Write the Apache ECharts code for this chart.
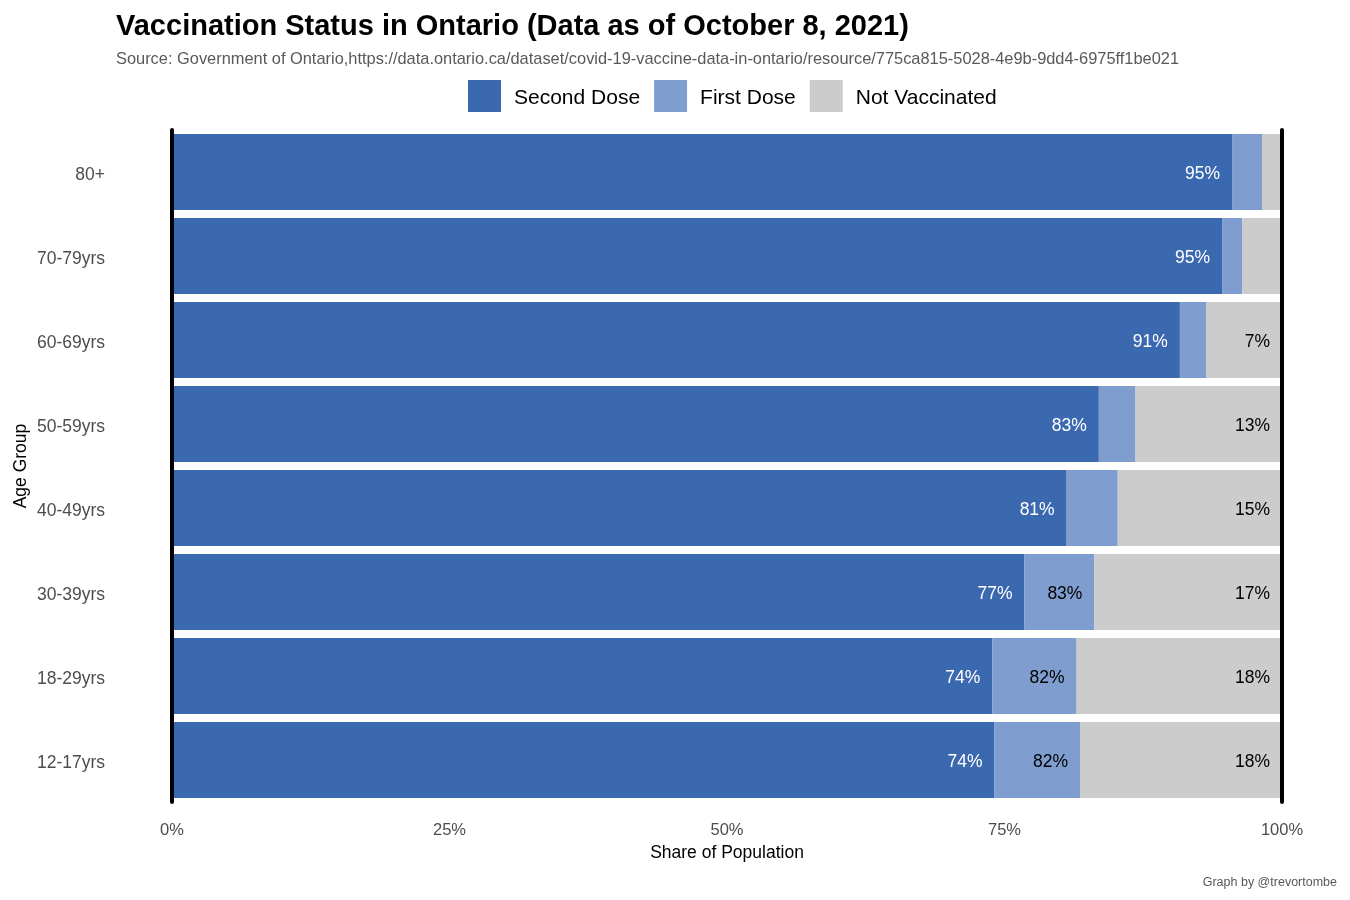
<!DOCTYPE html>
<html>
<head>
<meta charset="utf-8">
<title>Vaccination Status in Ontario</title>
<script src="https://cdn.jsdelivr.net/npm/echarts@6/dist/echarts.min.js"></script>
<style>
  html, body { margin: 0; padding: 0; background: #fff; }
  #main { width: 1350px; height: 900px; }
</style>
</head>
<body>
<div id="main"></div>
<script>
// categories, top to bottom
const ageGroups = ['80+', '70-79yrs', '60-69yrs', '50-59yrs', '40-49yrs', '30-39yrs', '18-29yrs', '12-17yrs'];

// share of population (%)
const secondDose = [95.5, 94.6, 90.8, 83.5, 80.6, 76.8, 73.9, 74.1];
const firstDose = [2.7, 1.8, 2.4, 3.3, 4.6, 6.3, 7.6, 7.7];
const notVaccinated = [1.8, 3.6, 6.8, 13.2, 14.8, 16.9, 18.5, 18.2];

// text printed on the bars ('' = no label)
const secondLabels = ['95%', '95%', '91%', '83%', '81%', '77%', '74%', '74%'];
const firstLabels = ['', '', '', '', '', '83%', '82%', '82%'];
const notLabels = ['', '', '7%', '13%', '15%', '17%', '18%', '18%'];

const xTicks = [0, 25, 50, 75, 100];

const font = '"Liberation Sans", Arial, sans-serif';
const colSecond = '#3a69b0';
const colFirst = '#7f9dce';
const colNot = '#cccccc';

const myChart = echarts.init(document.getElementById('main'));

function barLabel(labels, color) {
  return {
    show: true,
    position: 'insideRight',
    distance: 12,
    offset: [0, 2],
    color: color,
    fontFamily: font,
    fontSize: 17.5,
    formatter: function (p) { return labels[p.dataIndex]; }
  };
}

const option = {
  animation: false,
  backgroundColor: '#fff',
  textStyle: { fontFamily: font },
  title: [
    {
      text: 'Vaccination Status in Ontario (Data as of October 8, 2021)',
      left: 116,
      top: 12,
      padding: 0,
      textStyle: { fontFamily: font, fontSize: 29, fontWeight: 'bold', color: '#000' }
    },
    {
      text: 'Source: Government of Ontario,https://data.ontario.ca/dataset/covid-19-vaccine-data-in-ontario/resource/775ca815-5028-4e9b-9dd4-6975ff1be021',
      left: 116,
      top: 51,
      padding: 0,
      textStyle: { fontFamily: font, fontSize: 16.4, fontWeight: 'normal', color: '#595959' }
    },
    {
      text: 'Graph by @trevortombe',
      right: 13,
      top: 876,
      padding: 0,
      textStyle: { fontFamily: font, fontSize: 12.5, fontWeight: 'normal', color: '#595959' }
    }
  ],
  legend: {
    top: 80,
    left: 468,
    padding: 0,
    itemWidth: 33,
    itemHeight: 32,
    itemGap: 14,
    icon: 'rect',
    data: ['Second Dose', 'First Dose', 'Not Vaccinated'],
    formatter: '{t|{name}}',
    textStyle: {
      fontFamily: font,
      fontSize: 21,
      color: '#000',
      rich: { t: { fontFamily: font, fontSize: 21, color: '#000', padding: [4, 0, 0, 8] } }
    }
  },
  grid: {
    left: 172,
    right: 68,
    top: 130,
    bottom: 98,
    containLabel: false,
    outerBoundsMode: 'none'
  },
  xAxis: {
    type: 'value',
    min: xTicks[0],
    max: xTicks[xTicks.length - 1],
    interval: 25,
    name: 'Share of Population',
    nameLocation: 'middle',
    nameGap: 42,
    nameTextStyle: { fontFamily: font, fontSize: 17.5, color: '#000' },
    axisLine: { show: false },
    axisTick: { show: false },
    splitLine: { show: false },
    axisLabel: {
      margin: 20,
      fontFamily: font,
      fontSize: 16.5,
      color: '#4d4d4d',
      formatter: '{value}%'
    }
  },
  yAxis: [
    {
      type: 'category',
      data: ageGroups,
      inverse: true,
      z: 5,
      name: 'Age Group',
      nameLocation: 'middle',
      nameGap: 142,
      nameMoveOverlap: false,
      nameRotate: 90,
      nameTextStyle: { fontFamily: font, fontSize: 17.5, color: '#000' },
      axisTick: { show: false },
      axisLine: { show: true, lineStyle: { color: '#000', width: 4 } },
      axisLabel: {
        margin: 67,
        formatter: '{a|{value}}',
        rich: { a: { fontFamily: font, fontSize: 17.5, color: '#4d4d4d', padding: [6, 0, 0, 0] } }
      }
    },
    {
      type: 'category',
      data: ageGroups,
      inverse: true,
      z: 5,
      position: 'right',
      axisTick: { show: false },
      axisLabel: { show: false },
      axisLine: { show: true, lineStyle: { color: '#000', width: 4 } }
    }
  ],
  series: [
    {
      name: 'Second Dose',
      type: 'bar',
      stack: 'total',
      barCategoryGap: '9.5%',
      itemStyle: { color: colSecond },
      label: barLabel(secondLabels, '#fff'),
      data: secondDose
    },
    {
      name: 'First Dose',
      type: 'bar',
      stack: 'total',
      barCategoryGap: '9.5%',
      itemStyle: { color: colFirst },
      label: barLabel(firstLabels, '#000'),
      data: firstDose
    },
    {
      name: 'Not Vaccinated',
      type: 'bar',
      stack: 'total',
      barCategoryGap: '9.5%',
      itemStyle: { color: colNot },
      label: barLabel(notLabels, '#000'),
      data: notVaccinated
    }
  ]
};

myChart.setOption(option);
</script>
</body>
</html>
